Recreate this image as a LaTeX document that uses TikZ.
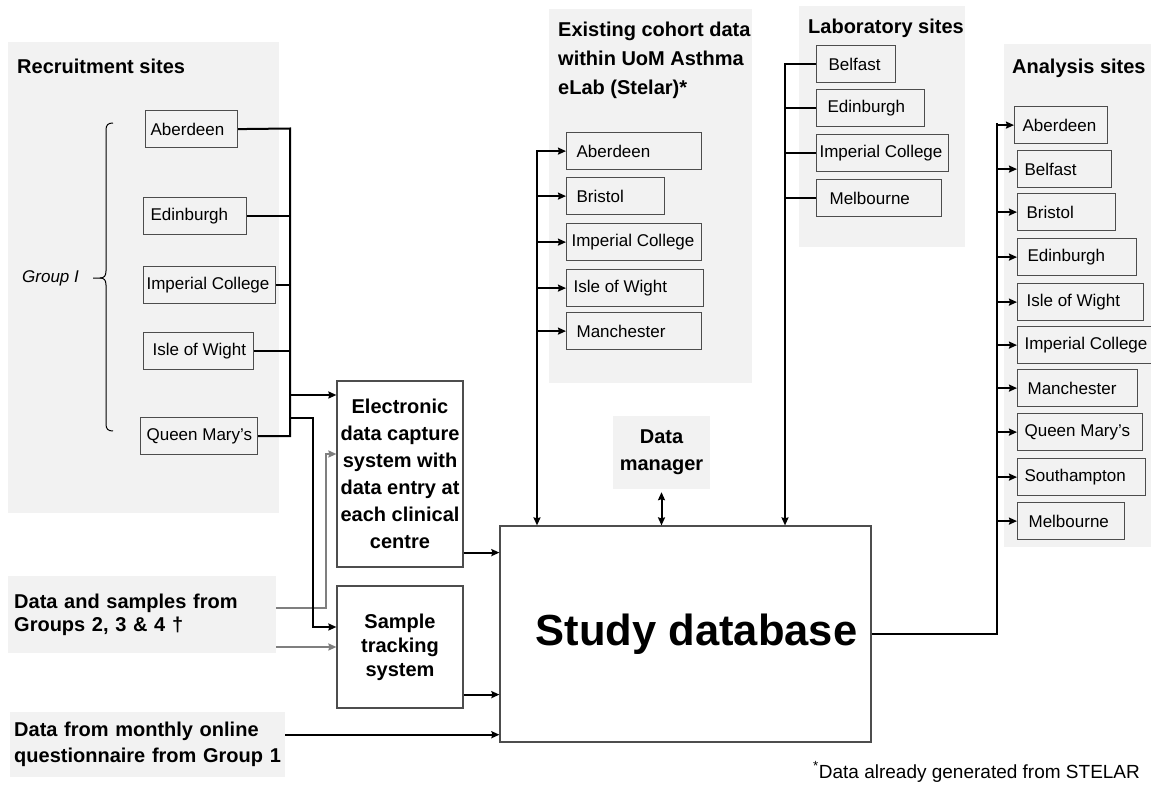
\documentclass[tikz,border=0pt]{standalone}
\usepackage{fontspec}
\setmainfont{Liberation Sans}
\usetikzlibrary{arrows.meta}
\definecolor{panelgray}{HTML}{F2F2F2}
\definecolor{boxline}{HTML}{4D4D4D}
\definecolor{feedgray}{HTML}{7F7F7F}
\newcommand{\sitetext}[3][6]{\makebox[#2pt][l]{\hspace{#1pt}#3}}
\tikzset{%
  panel/.style = {fill=panelgray, draw=none},
  site/.style = {rectangle, draw=boxline, line width=1.2pt, anchor=north west,
        inner xsep=0pt, minimum height=37pt, font=\fontsize{17}{20}\selectfont},
  sysbox/.style = {rectangle, draw=boxline, line width=1.2pt, align=center,
        inner sep=2pt, font=\fontsize{20}{27}\selectfont\bfseries},
  head/.style = {anchor=west, inner sep=0pt, align=left,
        font=\fontsize{20}{29}\selectfont\bfseries},
  link/.style = {draw=black, line width=2pt},
  feed/.style = {draw=feedgray, line width=2pt},
  >={Stealth[length=8pt,width=7pt,inset=1pt]}
}
\begin{document}
\begin{tikzpicture}[x=1pt,y=-1pt]
  \useasboundingbox (0,0) rectangle (1151,789);
  % grey panels
  \fill[panel] (8,42) rectangle (279,513);
  \fill[panel] (549,9) rectangle (752,383);
  \fill[panel] (799,6) rectangle (965,247);
  \fill[panel] (1004,44) rectangle (1151,547);

  % recruitment sites
  \node[head] (rtitle) at (17,66) {Recruitment sites};
  \node[site] (ra) at (145,110) {\sitetext[5]{92}{Aberdeen}};
  \node[site] (rb) at (143,197) {\sitetext[7]{103}{Edinburgh}};
  \node[site] (rc) at (143,266) {\sitetext[3]{132}{Imperial College}};
  \node[site] (rd) at (143,332) {\sitetext[9]{110}{Isle of Wight}};
  \node[site] (rq) at (140,417) {\sitetext[6]{117}{Queen Mary’s}};
  \node[anchor=west, inner sep=0pt, font=\fontsize{17}{20}\selectfont\itshape] (grp) at (22,278) {Group I};
  \draw[line width=1pt] (113,123) .. controls (108,123) and (106,125) .. (106,130)
        -- (106,271) .. controls (106,276) and (104,278) .. (100,278) -- (93,278);
  \draw[line width=1pt] (100,278) .. controls (104,278) and (106,280) .. (106,285)
        -- (106,424) .. controls (106,429) and (108,431) .. (113,431);

  % existing cohort data
  \node[head, anchor=north west] (ctitle) at (558,22) {Existing cohort data\\within UoM Asthma\\eLab (Stelar)*};
  \node[site] (ca) at (566,132) {\sitetext[10]{135}{Aberdeen}};
  \node[site] (cb) at (566,177) {\sitetext[10]{98}{Bristol}};
  \node[site] (cc) at (566,223) {\sitetext[5]{135}{Imperial College}};
  \node[site] (cd) at (566,269) {\sitetext[7]{137}{Isle of Wight}};
  \node[site] (ce) at (566,312) {\sitetext[10]{135}{Manchester}};

  % laboratory sites
  \node[head] (ltitle) at (808,28) {Laboratory sites};
  \node[site] (la) at (816,45) {\sitetext[12]{79}{Belfast}};
  \node[site] (lb) at (816,89) {\sitetext[11]{108}{Edinburgh}};
  \node[site] (lc) at (816,134) {\sitetext[3]{132}{Imperial College}};
  \node[site] (ld) at (816,179) {\sitetext[13]{125}{Melbourne}};

  % analysis sites
  \node[head] (atitle) at (1012,68) {Analysis sites};
  \begin{scope}[every node/.append style={minimum height=35pt}]
    \node[site] (aa) at (1014,106) {\sitetext[8]{93}{Aberdeen}};
    \node[site] (ab) at (1017,150) {\sitetext[7]{94}{Belfast}};
    \node[site] (ac) at (1017,193) {\sitetext[9]{98}{Bristol}};
    \node[site] (ad) at (1017,238) {\sitetext[10]{119}{Edinburgh}};
    \node[site] (ae) at (1017,283) {\sitetext[9]{126}{Isle of Wight}};
    \node[site] (af) at (1017,326) {\sitetext[7]{134}{Imperial College}};
    \node[site] (ag) at (1017,369) {\sitetext[10]{120}{Manchester}};
    \node[site] (ah) at (1017,413) {\sitetext[7]{125}{Queen Mary’s}};
    \node[site] (ai) at (1017,458) {\sitetext[7]{128}{Southampton}};
    \node[site] (aj) at (1017,502) {\sitetext[11]{107}{Melbourne}};
  \end{scope}

  % systems and inputs
  \node[sysbox, minimum width=126pt, minimum height=186pt] (edc) at (400,474)
        {Electronic\\data capture\\system with\\data entry at\\each clinical\\centre};
  \node[sysbox, minimum width=126pt, minimum height=122pt, font=\fontsize{20}{24}\selectfont\bfseries] (stb) at (400,647)
        {Sample\\tracking\\system};
  \node[sysbox, minimum width=371pt, minimum height=216pt, font=\fontsize{43.5}{50}\selectfont\bfseries] (db) at (685.5,634)
        {\hspace{22pt}Study database};
  \node[panel, anchor=north west, align=left, text width=256pt, inner xsep=6pt, minimum height=77pt,
        font=\fontsize{20}{23}\selectfont\bfseries] (samples) at (8,576)
        {Data and samples from\\Groups 2, 3 \& 4 †};
  \node[panel, anchor=north west, align=left, text width=267pt, inner xsep=4pt, minimum height=65pt,
        font=\fontsize{20}{26}\selectfont\bfseries] (monthly) at (10,712)
        {Data from monthly online\\questionnaire from Group 1};
  \node[panel, align=center, minimum width=97pt, minimum height=73pt,
        font=\fontsize{20}{27}\selectfont\bfseries] (dm) at (661.5,452.5) {Data\\manager};
  \node[anchor=west, inner sep=0pt, font=\fontsize{19}{21}\selectfont] (note) at (813,772)
        {\raisebox{1pt}{\textsuperscript{*}}Data already generated from STELAR};

  % connectors
  \coordinate (gj) at (326,608);
  \coordinate (gk) at (326,454);
  \draw[feed,->] (gj -| samples.east) -- (gj) -- (gk) -- (gk -| edc.west);
  \draw[feed,->] (samples.east |- stb.west) -- (stb.west);

  \coordinate (rtop) at (290,128.5);
  \draw[link] (ra.east) -- (rtop) -- (rtop |- rq.east) -- (rq.east);
  \foreach \n in {rb,rc,rd}
    \draw[link] (\n.east) -- (\n.east -| rtop);
  \coordinate (rj1) at (290,395);
  \coordinate (rj2) at (290,418);
  \coordinate (rj3) at (313,627);
  \draw[link,->] (rj1) -- (rj1 -| edc.west);
  \draw[link,->] (rj2) -| (rj3) -- (rj3 -| stb.west);

  \coordinate (e1) at ([yshift=15pt]edc.south east);
  \coordinate (s1) at ([yshift=14pt]stb.south east);
  \coordinate (m1) at ([yshift=10pt]monthly.east);
  \draw[link,->] (e1) -- (e1 -| db.west);
  \draw[link,->] (s1) -- (s1 -| db.west);
  \draw[link,->] (m1) -- (m1 -| db.west);

  \coordinate (ctop) at (537,150.5);
  \draw[link,->] (ctop) -- (ctop |- db.north);
  \foreach \n in {ca,cb,cc,cd,ce}
    \draw[link,->] (ctop |- \n.west) -- (\n.west);

  \coordinate (ltop) at (785,63.5);
  \draw[link,->] (ltop) -- (ltop |- db.north);
  \foreach \n in {la,lb,lc,ld}
    \draw[link] (ltop |- \n.west) -- (\n.west);

  \draw[link,<->] ([yshift=-3pt]dm.south) -- (dm.south |- db.north);

  \coordinate (atop) at (997,123.5);
  \draw[link] (db.east) -| (atop);
  \foreach \n in {aa,ab,ac,ad,ae,af,ag,ah,ai,aj}
    \draw[link,->] (atop |- \n.west) -- (\n.west);
\end{tikzpicture}
\end{document}
